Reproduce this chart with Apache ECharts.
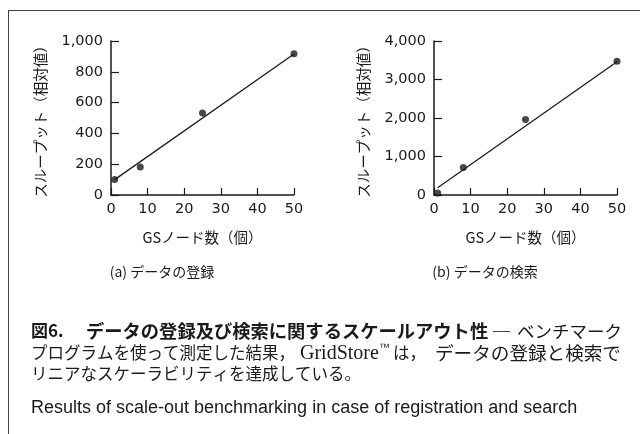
<!DOCTYPE html>
<html><head><meta charset="utf-8">
<script src="https://cdn.jsdelivr.net/npm/echarts@6/dist/echarts.min.js"></script>
<style>html,body{margin:0;padding:0;background:#fff}#c{width:640px;height:434px}</style>
</head><body><div id="c"></div>
<script>
// ---- data ----
const nodes = [1, 8, 25, 50];
const regThroughput = [100, 182, 532, 918];
const searchThroughput = [55, 715, 1960, 3475];
const regFitLine = [[1, 100], [50, 915]];
const searchFitLine = [[1, 190], [50, 3460]];
const xTicks = [0, 10, 20, 30, 40, 50];
const regYTicks = [0, 200, 400, 600, 800, 1000];
const searchYTicks = [0, 1000, 2000, 3000, 4000];

const yTitle = 'スループット（相対値）';
const xTitle = 'GSノード数（個）';
const subA = '(a) データの登録';
const subB = '(b) データの検索';
const cap1Bold = ['図6.', 'データの登録及び検索に関するスケールアウト性'];
const cap1Dash = '—';
const cap1Rest = 'ベンチマーク';
const cap2 = ['プログラムを使って測定した結果，', 'GridStore', '™', 'は，', 'データの登録と検索で'];
const cap3 = 'リニアなスケーラビリティを達成している。';
const capEn = 'Results of scale-out benchmarking in case of registration and search';

const INK = '#1a1a1a';
const NUM_FONT = 'DejaVu Sans';
const JP = '"Noto Sans CJK JP"';

function xAxisCfg(gi) {
  return {
    type: 'value', gridIndex: gi, min: xTicks[0], max: xTicks[xTicks.length - 1],
    interval: xTicks[1] - xTicks[0],
    name: xTitle, nameLocation: 'middle', nameGap: 35,
    nameTextStyle: { fontFamily: JP, fontSize: 14.5, color: INK },
    axisLine: { show: true, onZero: false, lineStyle: { color: INK, width: 1.5 } },
    axisTick: { show: true, inside: true, length: 7, lineStyle: { color: INK, width: 1.2 } },
    axisLabel: { margin: 7, fontFamily: NUM_FONT, fontSize: 14.5, color: INK },
    splitLine: { show: false }
  };
}
function yAxisCfg(gi, ticks) {
  return {
    type: 'value', gridIndex: gi, min: ticks[0], max: ticks[ticks.length - 1],
    interval: ticks[1] - ticks[0],
    name: yTitle, nameLocation: 'middle', nameGap: 63, nameRotate: 90,
    nameTextStyle: { fontFamily: JP, fontSize: 14.5, color: INK },
    axisLine: { show: true, lineStyle: { color: INK, width: 1.5 } },
    axisTick: { show: true, inside: true, length: 8, lineStyle: { color: INK, width: 1.2 } },
    axisLabel: { margin: 8, fontFamily: NUM_FONT, fontSize: 14.5, color: INK,
      formatter: v => v.toLocaleString('en-US') },
    splitLine: { show: false }
  };
}

const chart = echarts.init(document.getElementById('c'), null, { renderer: 'canvas' });
const txt = (text, x, y, font, extra) => ({
  type: 'text', x, y, silent: true,
  style: Object.assign({ text, font, fill: INK, align: 'left', verticalAlign: 'middle' }, extra || {})
});

chart.setOption({
  animation: false,
  backgroundColor: '#fff',
  grid: [
    { left: 111, top: 41, width: 183, height: 154 },
    { left: 434, top: 41, width: 183, height: 154 }
  ],
  xAxis: [xAxisCfg(0), xAxisCfg(1)],
  yAxis: [yAxisCfg(0, regYTicks), yAxisCfg(1, searchYTicks)],
  series: [
    { type: 'line', xAxisIndex: 0, yAxisIndex: 0, data: regFitLine, symbol: 'none',
      lineStyle: { color: INK, width: 1.3 }, z: 2 },
    { type: 'scatter', xAxisIndex: 0, yAxisIndex: 0, symbolSize: 7,
      data: nodes.map((n, i) => [n, regThroughput[i]]), itemStyle: { color: INK }, z: 3 },
    { type: 'line', xAxisIndex: 1, yAxisIndex: 1, data: searchFitLine, symbol: 'none',
      lineStyle: { color: INK, width: 1.3 }, z: 2 },
    { type: 'scatter', xAxisIndex: 1, yAxisIndex: 1, symbolSize: 7,
      data: nodes.map((n, i) => [n, searchThroughput[i]]), itemStyle: { color: INK }, z: 3 }
  ],
  graphic: [
    { type: 'line', silent: true, shape: { x1: 8, y1: 10.5, x2: 640, y2: 10.5 }, style: { stroke: '#444', lineWidth: 1 } },
    { type: 'line', silent: true, shape: { x1: 8.5, y1: 10, x2: 8.5, y2: 434 }, style: { stroke: '#444', lineWidth: 1 } },
    txt(subA, 162, 272, '14px ' + JP, { align: 'center' }),
    txt(subB, 485, 272, '14px ' + JP, { align: 'center' }),
    txt(cap1Bold[0], 31, 331, 'bold 17px ' + JP),
    txt(cap1Bold[1], 86, 331, 'bold 18.3px ' + JP),
    txt(cap1Dash, 493, 331, '17px "Liberation Serif"'),
    txt(cap1Rest, 517, 331, '17.5px ' + JP),
    txt(cap2[0], 31, 353, '16.5px ' + JP),
    txt(cap2[1], 300, 354, '20px "Liberation Serif"'),
    txt(cap2[2], 379, 348, '11px "Liberation Sans"'),
    txt(cap2[3], 393, 353, '16.5px ' + JP),
    txt(cap2[4], 435, 353, '18.6px ' + JP),
    txt(cap3, 31, 374, '16.5px ' + JP),
    txt(capEn, 31, 408, '18px "Liberation Sans"')
  ]
});
</script></body></html>
